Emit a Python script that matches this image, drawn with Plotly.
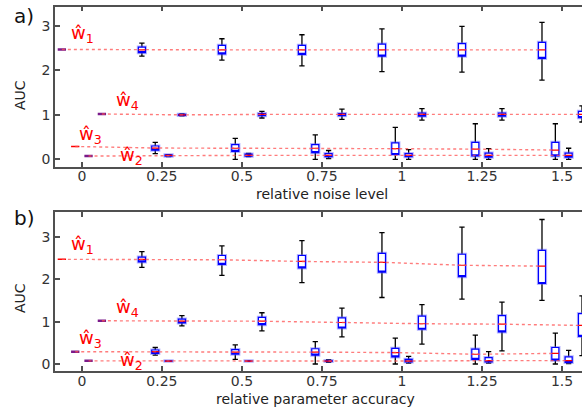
import plotly.graph_objects as go

# ---------------- data ----------------
levels = [0.25, 0.5, 0.75, 1.0, 1.25, 1.5]
tick_vals = [0, 0.25, 0.5, 0.75, 1.0, 1.25, 1.5]
tick_text = ["0", "0.25", "0.5", "0.75", "1", "1.25", "1.5"]
params = ["w1", "w3", "w2", "w4"]            # order of boxes inside each group
offsets = {"w1": -0.0625, "w3": -0.0208, "w2": 0.0208, "w4": 0.0625}
true_vals = {"w1": 2.47, "w2": 0.075, "w3": 0.29, "w4": 1.02}

# panel a: relative noise level
noise = {
    "w1": dict(q1=[2.40, 2.37, 2.36, 2.32, 2.32, 2.27],
               med=[2.46, 2.46, 2.46, 2.46, 2.46, 2.46],
               q3=[2.52, 2.56, 2.56, 2.59, 2.60, 2.63],
               lo=[2.32, 2.23, 2.10, 1.97, 1.96, 1.78],
               hi=[2.61, 2.71, 2.80, 2.93, 2.99, 3.08]),
    "w4": dict(q1=[0.99, 0.98, 0.98, 0.97, 0.97, 0.94],
               med=[1.00, 1.01, 1.01, 1.01, 1.01, 1.01],
               q3=[1.01, 1.03, 1.03, 1.04, 1.04, 1.08],
               lo=[0.98, 0.93, 0.90, 0.88, 0.88, 0.84],
               hi=[1.02, 1.08, 1.13, 1.14, 1.14, 1.20]),
    "w3": dict(q1=[0.21, 0.18, 0.15, 0.11, 0.08, 0.08],
               med=[0.255, 0.25, 0.25, 0.24, 0.23, 0.21],
               q3=[0.30, 0.33, 0.33, 0.37, 0.38, 0.38],
               lo=[0.13, 0.0, 0.0, 0.0, 0.0, 0.0],
               hi=[0.38, 0.47, 0.55, 0.72, 0.80, 0.80]),
    "w2": dict(q1=[0.07, 0.075, 0.06, 0.06, 0.05, 0.05],
               med=[0.09, 0.09, 0.09, 0.09, 0.09, 0.09],
               q3=[0.10, 0.12, 0.13, 0.13, 0.14, 0.14],
               lo=[0.065, 0.06, 0.02, 0.0, 0.0, 0.0],
               hi=[0.105, 0.135, 0.20, 0.22, 0.24, 0.25]),
}
# panel b: relative parameter accuracy
accuracy = {
    "w1": dict(q1=[2.41, 2.35, 2.27, 2.17, 2.06, 1.90],
               med=[2.47, 2.46, 2.42, 2.40, 2.33, 2.31],
               q3=[2.52, 2.56, 2.56, 2.61, 2.59, 2.68],
               lo=[2.28, 2.09, 1.92, 1.57, 1.53, 1.50],
               hi=[2.65, 2.79, 2.91, 3.10, 3.23, 3.41]),
    "w4": dict(q1=[0.97, 0.93, 0.85, 0.82, 0.76, 0.65],
               med=[1.01, 1.01, 0.98, 0.95, 0.94, 0.91],
               q3=[1.06, 1.10, 1.09, 1.13, 1.14, 1.19],
               lo=[0.90, 0.78, 0.64, 0.47, 0.31, 0.20],
               hi=[1.14, 1.21, 1.32, 1.40, 1.46, 1.61]),
    "w3": dict(q1=[0.25, 0.23, 0.21, 0.17, 0.11, 0.09],
               med=[0.29, 0.28, 0.28, 0.27, 0.23, 0.25],
               q3=[0.33, 0.34, 0.36, 0.37, 0.35, 0.39],
               lo=[0.21, 0.11, 0.0, 0.0, 0.0, 0.0],
               hi=[0.39, 0.45, 0.53, 0.61, 0.68, 0.73]),
    "w2": dict(q1=[0.065, 0.065, 0.06, 0.05, 0.05, 0.04],
               med=[0.07, 0.07, 0.07, 0.07, 0.08, 0.08],
               q3=[0.075, 0.075, 0.08, 0.11, 0.15, 0.17],
               lo=[0.065, 0.06, 0.04, 0.02, 0.02, 0.01],
               hi=[0.075, 0.08, 0.10, 0.18, 0.29, 0.32]),
}
# colour of the true-value marker at x=0 per panel
marker_col_a = {"w1": "#7a1a8a", "w2": "#7a1a8a", "w3": "#ff0000", "w4": "#7a1a8a"}
marker_col_b = {"w1": "#ff0000", "w2": "#7a1a8a", "w3": "#7a1a8a", "w4": "#7a1a8a"}
param_labels = {"w1": "ŵ<sub>1</sub>", "w2": "ŵ<sub>2</sub>",
                "w3": "ŵ<sub>3</sub>", "w4": "ŵ<sub>4</sub>"}

# ---------------- styling ----------------
W, H = 582, 412
ML = 55
BOXW = 0.022
PURPLE_W = 2.5

fig = go.Figure()


def add_panel(stats, mcols, xa, ya):
    # dotted median lines
    for p in params:
        xs = [0 + offsets[p]] + [lv + offsets[p] for lv in levels]
        ys = [true_vals[p]] + stats[p]["med"]
        fig.add_trace(go.Scatter(x=xs, y=ys, mode="lines", xaxis=xa, yaxis=ya,
                                 line=dict(color="rgba(255,80,80,0.75)", width=1.4, dash="dot"),
                                 hoverinfo="skip", showlegend=False))
    for p in params:
        s = stats[p]
        xs = [lv + offsets[p] for lv in levels]
        common = dict(x=xs, xaxis=xa, yaxis=ya, width=BOXW, boxpoints=False,
                      showlegend=False, hoverinfo="skip")
        # whiskers (black)
        fig.add_trace(go.Box(q1=s["med"], median=s["med"], q3=s["med"],
                             lowerfence=s["lo"], upperfence=s["hi"],
                             line=dict(color="black", width=1.3), whiskerwidth=0.75,
                             fillcolor="white", **common))
        # halo
        fig.add_trace(go.Box(q1=s["q1"], median=s["med"], q3=s["q3"],
                             lowerfence=s["q1"], upperfence=s["q3"],
                             line=dict(color="rgba(90,90,255,0.45)", width=3.2), whiskerwidth=0,
                             fillcolor="white", **common))
        # box (blue)
        fig.add_trace(go.Box(q1=s["q1"], median=s["q1"], q3=s["q3"],
                             lowerfence=s["q1"], upperfence=s["q3"],
                             line=dict(color="#0000ff", width=1.2), whiskerwidth=0,
                             fillcolor="white", **common))
        # median (red)
        fig.add_trace(go.Box(q1=s["med"], median=s["med"], q3=s["med"],
                             lowerfence=s["med"], upperfence=s["med"],
                             line=dict(color="#ff0000", width=1.2), whiskerwidth=0,
                             fillcolor="rgba(0,0,0,0)", **common))
    # true value markers at x = 0
    for p in params:
        col = mcols[p]
        lw = PURPLE_W if col != "#ff0000" else 1.5
        fig.add_trace(go.Box(x=[0 + offsets[p]], q1=[true_vals[p]], median=[true_vals[p]],
                             q3=[true_vals[p]], lowerfence=[true_vals[p]],
                             upperfence=[true_vals[p]], width=0.026, boxpoints=False,
                             line=dict(color=col, width=lw), whiskerwidth=0,
                             fillcolor="rgba(0,0,0,0)", xaxis=xa, yaxis=ya,
                             showlegend=False, hoverinfo="skip"))


add_panel(noise, marker_col_a, "x", "y")
add_panel(accuracy, marker_col_b, "x2", "y2")

axis_col = "#505050"
xcommon = dict(range=[-0.084, 1.5625], tickvals=tick_vals, ticktext=tick_text,
               ticks="inside", ticklen=5, tickcolor=axis_col, tickwidth=1.5,
               showline=True, linecolor=axis_col, linewidth=1.5, mirror="ticks",
               showgrid=False, zeroline=False, ticklabelstandoff=-4,
               tickfont=dict(family="DejaVu Sans", size=14, color="#333333"),
               domain=[0, 1])
ycommon = dict(tickvals=[0, 1, 2, 3], ticks="inside", ticklen=5, tickcolor=axis_col,
               tickwidth=1.5, showline=True, linecolor=axis_col, linewidth=1.5,
               showgrid=False, zeroline=False,
               tickfont=dict(family="DejaVu Sans", size=14, color="#333333"))

def py(pix):
    return 1 - pix / H

fig.update_layout(
    width=W, height=H, margin=dict(l=ML, r=0, t=0, b=0),
    paper_bgcolor="white", plot_bgcolor="white", boxmode="overlay",
    xaxis=dict(anchor="y", **xcommon),
    xaxis2=dict(anchor="y2", **xcommon),
    yaxis=dict(anchor="x", range=[-0.16, 3.43], domain=[py(166.5), py(6.7)], **ycommon),
    yaxis2=dict(anchor="x2", range=[-0.165, 3.58], domain=[py(371), py(212.3)], **ycommon),
)

def px(pix):
    return (pix - ML) / (W - ML)

annots = []
txt_font = dict(family="DejaVu Sans", size=14, color="#222222")
annots.append(dict(text="a)", x=px(24), y=py(16), font=dict(family="DejaVu Sans", size=20, color="#111")))
annots.append(dict(text="b)", x=px(24), y=py(218), font=dict(family="DejaVu Sans", size=20, color="#111")))
annots.append(dict(text="AUC", x=px(20), y=py(95), textangle=-90, font=txt_font))
annots.append(dict(text="AUC", x=px(20), y=py(298), textangle=-90, font=txt_font))
annots.append(dict(text="relative noise level", x=px(322), y=py(194), font=txt_font))
annots.append(dict(text="relative parameter accuracy", x=px(315), y=py(399), font=txt_font))

# label centres (pixels)
label_pos = [("w1", 82, 34), ("w4", 127, 101.5), ("w3", 90, 134.5), ("w2", 131, 156),
             ("w1", 82.5, 245), ("w4", 127.5, 308), ("w3", 90, 338.5), ("w2", 131, 360.5)]
for p, lx, ly in label_pos:
    annots.append(dict(text=param_labels[p], x=px(lx), y=py(ly),
                       font=dict(family="DejaVu Sans", size=18, color="#ff0000")))

for a in annots:
    a.update(xref="paper", yref="paper", showarrow=False, xanchor="center", yanchor="middle")
fig.update_layout(annotations=annots)

fig.write_html("out.html")
